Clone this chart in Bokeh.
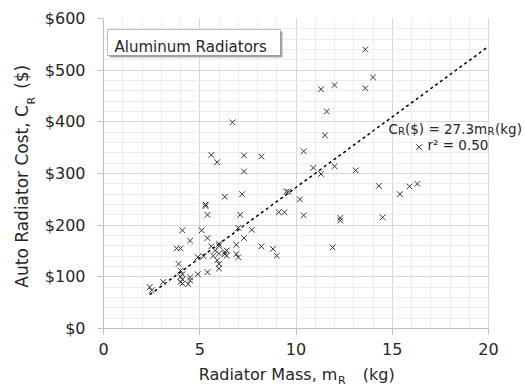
import numpy as np
from bokeh.plotting import figure
from bokeh.models import (Range1d, SingleIntervalTicker, PrintfTickFormatter,
                          Label, BoxAnnotation, ColumnDataSource)
from bokeh.embed import file_html
from bokeh.resources import INLINE

# ---- data ----
mass_kg = [13.6, 14.0, 13.6, 11.3, 12.0, 11.6, 11.5, 10.4, 6.7, 16.4,
           10.9, 11.3, 12.0, 13.1, 14.3, 15.4, 15.9, 16.3, 10.2, 10.4,
           12.3, 12.3, 14.5, 11.9, 5.6, 5.9, 7.3, 8.2, 7.3, 6.3,
           7.2, 5.3, 5.3, 5.4, 7.1, 9.5, 9.6, 9.1, 9.4, 7.0,
           7.7, 5.1, 4.1, 4.5, 5.4, 7.3, 6.9, 8.2, 8.8, 9.0,
           5.6, 6.0, 5.7, 6.3, 6.4, 6.9, 7.0, 3.8, 4.0, 4.9,
           5.2, 5.8, 6.0, 5.9, 6.0, 6.0, 6.3, 6.4, 5.4, 4.9,
           3.9, 4.0, 4.1, 4.0, 4.1, 4.0, 4.1, 4.5, 4.4, 4.5,
           3.1, 2.4, 2.5, 6.0]
cost_usd = [540, 486, 465, 463, 471, 420, 374, 343, 399, 351,
            311, 299, 314, 306, 276, 260, 275, 280, 250, 219,
            214, 209, 215, 157, 336, 322, 335, 333, 304, 255,
            260, 240, 237, 220, 220, 265, 265, 225, 225, 195,
            191, 190, 190, 170, 175, 175, 162, 159, 154, 141,
            159, 160, 141, 148, 141, 144, 138, 155, 155, 138,
            140, 151, 145, 132, 125, 116, 144, 151, 109, 105,
            125, 112, 105, 100, 95, 90, 87, 99, 86, 93,
            90, 80, 74, 164]
TREND_SLOPE = 27.3
R_SQUARED = 0.50
x_ticks_interval = 5
y_ticks_interval = 100
X_MAX = 20
Y_MAX = 600

TXT = "#262626"
FONT = "DejaVu Sans"
NB = "\u00a0"

# frame: x 103..488 for 0..20 (19.25 px / kg); extended to the canvas edge
PX_PER_X = 385.0 / X_MAX
X_END = X_MAX + 37 / PX_PER_X

p = figure(width=525, height=388, output_backend="svg", toolbar_location=None,
           x_range=Range1d(0, X_END), y_range=Range1d(0, Y_MAX),
           min_border_left=103, min_border_right=0, min_border_top=18,
           min_border_bottom=60)
p.outline_line_color = None
p.background_fill_color = "white"
p.border_fill_color = "white"

p.xaxis.ticker = SingleIntervalTicker(interval=x_ticks_interval, num_minor_ticks=5)
p.yaxis.ticker = SingleIntervalTicker(interval=y_ticks_interval, num_minor_ticks=5)
p.yaxis.formatter = PrintfTickFormatter(format="$%d")
p.xaxis.bounds = (0, X_MAX)

for ax in (p.xaxis, p.yaxis):
    ax.axis_line_color = "#bfbfbf"
    ax.major_tick_line_color = "#bfbfbf"
    ax.major_tick_out = 6
    ax.major_tick_in = 0
    ax.minor_tick_line_color = None
    ax.major_label_text_font = FONT
    ax.major_label_text_font_size = "16px"
    ax.major_label_text_color = TXT
    ax.axis_label_text_font = FONT
    ax.axis_label_text_font_style = "normal"
    ax.axis_label_text_color = TXT
p.xaxis.major_label_standoff = 8
p.yaxis.major_label_standoff = 12
# non-breaking spaces leave room for the subscripts and re-centre the titles
p.xaxis.axis_label = "Radiator Mass, m" + NB * 5 + "(kg)" + NB * 7
p.xaxis.axis_label_text_font_size = "16px"
p.xaxis.axis_label_standoff = 7
p.yaxis.axis_label = "Auto Radiator Cost, C" + NB * 3 + "($)" + NB
p.yaxis.axis_label_text_font_size = "17px"
p.yaxis.axis_label_standoff = 10

for g in (p.xgrid, p.ygrid):
    g.grid_line_color = "#d6d6d6"
    g.minor_grid_line_color = "#ededed"

# trend line
xs = np.array([min(mass_kg), X_MAX])
p.line(xs, TREND_SLOPE * xs, line_color="black", line_width=1.5, line_dash="3 3")

# scatter
src = ColumnDataSource(dict(m=mass_kg, c=cost_usd))
p.scatter("m", "c", source=src, marker="x", size=8, line_color="#333333", line_width=1)

# cover the grid beyond x = 20 (outside the reference plot area)
p.add_layout(BoxAnnotation(left=X_MAX + 0.04, right=X_END, top=Y_MAX, bottom=0,
                           fill_color="white", fill_alpha=1, line_color=None))

def dx(px):
    return (px - 103) / PX_PER_X

def dy(py):
    return (328 - py) * Y_MAX / 310.0

def lab(text, px, py, size, angle=0, place="center", baseline="alphabetic"):
    lb = Label(x=dx(px), y=dy(py), text=text, text_font=FONT,
               text_font_size=size, text_color=TXT, angle=angle,
               text_align="left", text_baseline=baseline)
    p.add_layout(lb, place)

# title box
p.add_layout(BoxAnnotation(left=dx(109), right=dx(282), top=dy(31), bottom=dy(57),
                           fill_color="#a8a8a8", fill_alpha=1, line_color=None))
p.add_layout(BoxAnnotation(left=dx(107), right=dx(280), top=dy(29), bottom=dy(55),
                           fill_color="white", fill_alpha=1, line_color="#202020",
                           line_width=1))
lab("Aluminum Radiators", 114, 46.5, "15px")

# equation
lab("C", 388, 128.5, "13.5px")
lab("R", 397.5, 130.5, "10px")
lab("($) = 27.3m", 404.5, 128.5, "13.5px")
lab("R", 487, 130.5, "10px")
lab("(kg)", 494.5, 128.5, "13.5px")
lab("r\u00b2 = %.2f" % R_SQUARED, 427, 144.3, "13.5px")

# subscripts of the axis titles (placed in side panels so they are not clipped)
lab("R", 337.5, 373.5, "11px", place="left", baseline="top")
lab("R", 31, 104, "11px", angle=np.pi / 2, place="above")

open("out.html", "w").write(file_html(p, INLINE))
